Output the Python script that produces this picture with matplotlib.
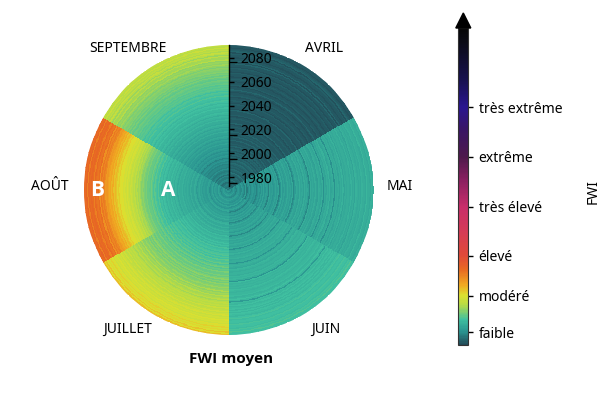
import numpy as np
import matplotlib
matplotlib.use("Agg")
import matplotlib.pyplot as plt
from matplotlib import font_manager as fm
from matplotlib.colors import LinearSegmentedColormap, Normalize
from matplotlib.cm import ScalarMappable
from matplotlib.patches import Polygon

plt.rcParams['font.family'] = ['Noto Sans', 'DejaVu Sans']


def _bold_family():
    for fam in ["Noto Sans", "Open Sans", "Roboto", "DejaVu Sans"]:
        for f in fm.fontManager.ttflist:
            if f.name != fam:
                continue
            w = f.weight
            if isinstance(w, str):
                ok = w.lower() in ("bold", "heavy", "black", "extra bold", "semibold", "demibold")
            else:
                ok = w >= 600
            if ok:
                return [fam, "DejaVu Sans"]
    return ["DejaVu Sans"]


BOLD = _bold_family()

# ---------------- data ----------------
months = ["AVRIL", "MAI", "JUIN", "JUILLET", "AOÛT", "SEPTEMBRE"]
years = list(range(1970, 2091))

avril = [
    1.3, 1.0, 1.5, 1.1, 0.9, 1.4, 1.2, 1.0, 1.6, 1.1,
    1.0, 1.3, 0.8, 1.2, 1.5, 0.9, 1.1, 1.4, 0.8, 1.2,
    0.9, 1.1, 1.3, 0.8, 1.0, 1.4, 0.9, 1.2, 0.7, 1.0,
    0.8, 1.0, 0.7, 1.2, 0.8, 0.7, 1.1, 0.6, 0.9, 0.7,
    0.6, 1.0, 0.7, 0.5, 1.1, 0.6, 0.8, 0.5, 1.0, 0.6,
    0.7, 0.5, 0.9, 0.6, 0.4, 1.0, 0.6, 0.7, 0.5, 0.8,
    0.6, 0.4, 0.9, 0.5, 0.7, 0.6, 1.0, 0.4, 0.6, 0.7,
    0.5, 0.8, 0.4, 0.6, 0.9, 0.5, 0.7, 0.4, 0.8, 0.5,
    0.6, 0.4, 0.7, 1.0, 0.5, 0.6, 0.4, 0.8, 0.5, 0.7,
    0.4, 0.6, 0.9, 0.5, 0.4, 0.7, 0.5, 0.8, 0.4, 0.6,
    0.5, 0.9, 0.4, 0.6, 0.5, 1.2, 0.4, 1.0, 0.5, 0.6,
    0.4, 0.7, 0.5, 0.8, 0.4, 1.2, 0.9, 0.5, 0.4, 0.7,
    0.5,
]

mai = [
    2.4, 2.9, 2.2, 2.7, 3.1, 2.5, 2.0, 2.8, 3.2, 2.6,
    2.3, 3.0, 2.7, 2.1, 3.3, 1.9, 2.5, 3.1, 2.4, 2.9,
    3.2, 2.6, 2.9, 2.0, 2.5, 3.0, 2.7, 3.3, 2.8, 3.5,
    2.9, 3.3, 3.0, 2.1, 3.6, 3.1, 3.4, 2.8, 3.2, 3.7,
    3.1, 3.5, 2.2, 2.9, 3.8, 3.2, 3.6, 3.0, 3.4, 3.9,
    3.3, 3.7, 3.2, 3.9, 2.3, 3.1, 3.8, 3.6, 3.3, 4.0,
    3.5, 3.8, 3.4, 4.1, 3.6, 3.9, 3.3, 2.4, 4.0, 3.5,
    3.8, 3.6, 4.1, 3.7, 3.4, 4.0, 3.8, 3.6, 4.2, 2.5,
    3.9, 3.5, 4.0, 3.8, 4.3, 3.6, 3.9, 4.1, 2.6, 4.0,
    3.8, 4.2, 3.6, 4.0, 3.9, 4.4, 3.7, 4.1, 3.8, 4.0,
    4.2, 3.8, 4.3, 3.9, 4.1, 3.7, 4.4, 4.0, 3.9, 4.2,
    3.8, 4.3, 4.0, 4.1, 3.9, 4.5, 4.0, 4.2, 3.9, 4.3,
    4.1,
]

juin = [
    2.6, 3.1, 2.4, 2.9, 3.3, 2.7, 2.3, 3.0, 3.4, 2.8,
    2.5, 3.2, 2.9, 3.5, 2.7, 3.1, 3.6, 2.8, 2.1, 3.0,
    3.4, 2.9, 3.6, 3.2, 3.7, 3.0, 3.5, 2.3, 3.1, 3.8,
    3.4, 3.7, 3.3, 3.9, 3.6, 3.2, 3.8, 3.6, 2.4, 3.5,
    3.7, 4.0, 3.6, 3.9, 3.7, 4.1, 3.8, 3.5, 4.0, 2.6,
    3.8, 4.1, 3.9, 4.3, 3.8, 4.1, 4.0, 4.4, 3.9, 4.2,
    4.1, 2.8, 4.0, 4.3, 4.2, 3.9, 4.6, 4.3, 4.1, 4.4,
    4.3, 4.2, 4.7, 4.3, 4.5, 4.1, 2.9, 4.8, 4.3, 4.6,
    4.3, 4.7, 4.4, 4.8, 4.5, 4.3, 4.7, 4.6, 4.9, 4.4,
    4.6, 5.0, 4.5, 3.2, 4.9, 4.6, 5.0, 4.7, 4.8, 5.1,
    4.7, 5.0, 4.6, 5.2, 4.9, 4.7, 5.0, 5.3, 4.8, 5.0,
    5.1, 4.9, 5.4, 5.0, 5.2, 4.8, 5.3, 5.0, 5.5, 5.1,
    5.2,
]

juillet = [
    2.8, 3.3, 2.6, 3.1, 3.5, 2.9, 2.5, 3.2, 3.6, 3.0,
    3.1, 3.5, 2.9, 3.7, 3.2, 2.8, 3.6, 3.9, 3.1, 3.4,
    3.6, 3.3, 3.9, 3.5, 4.1, 3.7, 3.4, 4.0, 4.3, 3.8,
    3.9, 4.3, 3.8, 4.2, 4.6, 4.0, 4.4, 4.1, 4.8, 4.3,
    4.5, 4.9, 4.3, 4.7, 5.1, 4.6, 5.0, 4.7, 5.3, 4.9,
    5.0, 5.4, 4.9, 5.3, 5.7, 5.1, 5.5, 5.2, 5.9, 5.4,
    5.6, 6.0, 5.4, 5.9, 6.3, 5.7, 6.1, 5.8, 6.5, 6.0,
    6.2, 6.7, 6.0, 6.5, 7.0, 6.3, 6.8, 6.4, 7.2, 6.7,
    6.9, 7.4, 6.8, 7.2, 7.8, 7.1, 7.6, 7.3, 8.1, 7.5,
    7.8, 8.3, 7.6, 8.1, 8.7, 8.0, 8.5, 8.2, 9.0, 8.4,
    8.7, 9.3, 8.5, 9.0, 9.6, 8.9, 9.4, 9.1, 9.9, 9.3,
    9.6, 9.2, 10.1, 9.5, 10.6, 9.7, 10.3, 9.8, 11.0, 10.2,
    11.3,
]

aout = [
    2.7, 3.2, 2.5, 3.0, 3.4, 2.8, 2.4, 3.1, 3.5, 2.9,
    3.0, 3.4, 2.8, 3.5, 3.1, 2.7, 3.3, 3.7, 3.0, 3.2,
    3.4, 3.1, 3.7, 3.3, 3.9, 3.5, 3.2, 3.8, 4.0, 3.6,
    3.7, 4.0, 3.6, 3.9, 4.2, 3.8, 4.1, 3.9, 4.4, 4.0,
    4.1, 4.4, 3.9, 4.3, 4.6, 4.2, 4.5, 4.3, 4.8, 4.4,
    4.5, 4.9, 4.4, 4.8, 5.2, 4.7, 5.1, 4.9, 5.5, 5.2,
    5.4, 5.8, 5.3, 5.9, 6.3, 5.8, 6.2, 6.0, 6.7, 6.4,
    6.7, 7.2, 6.8, 7.4, 7.9, 7.5, 8.0, 7.8, 8.5, 8.2,
    8.5, 9.0, 8.6, 9.1, 9.6, 9.2, 9.7, 9.4, 10.2, 9.9,
    10.1, 10.8, 10.4, 11.0, 11.7, 11.2, 12.0, 11.6, 12.4, 12.0,
    12.6, 13.2, 12.8, 13.8, 14.4, 13.9, 14.6, 13.4, 15.0, 14.5,
    14.8, 15.4, 14.2, 15.1, 15.7, 15.0, 15.5, 14.0, 15.8, 15.2,
    15.6,
]

septembre = [
    1.6, 2.0, 1.5, 1.9, 2.2, 1.7, 1.4, 2.1, 2.3, 1.8,
    1.9, 2.3, 1.7, 2.4, 2.0, 1.8, 2.2, 2.6, 2.0, 2.3,
    2.4, 2.1, 2.7, 2.3, 2.8, 2.5, 2.2, 2.9, 3.0, 2.6,
    2.8, 3.1, 2.7, 3.0, 3.3, 2.9, 3.2, 3.0, 3.5, 3.1,
    3.3, 3.6, 3.1, 3.5, 3.8, 3.4, 3.7, 3.5, 4.0, 3.6,
    3.8, 4.1, 3.6, 4.0, 4.3, 3.9, 4.2, 4.0, 4.5, 4.1,
    4.3, 4.6, 4.1, 4.5, 4.8, 4.4, 4.7, 4.5, 5.0, 4.6,
    4.8, 5.1, 4.6, 5.0, 5.3, 4.9, 5.2, 5.0, 5.5, 5.2,
    5.4, 5.7, 5.2, 5.6, 5.9, 5.5, 5.8, 5.6, 6.1, 5.8,
    6.0, 6.3, 5.8, 6.2, 6.6, 6.1, 6.5, 6.3, 6.9, 6.5,
    6.8, 7.2, 6.6, 7.1, 7.6, 7.0, 7.4, 7.2, 8.0, 7.5,
    7.7, 8.3, 7.4, 8.0, 8.8, 7.8, 8.5, 8.1, 9.2, 8.2,
    8.6,
]

class_labels = ["faible", "modéré", "élevé", "très élevé", "extrême", "très extrême"]
class_values = [2.6, 9.9, 18.0, 27.9, 38.0, 48.0]
fwi_min, fwi_max = 0.0, 64.0
year_ticks = [1980, 2000, 2020, 2040, 2060, 2080]

# ---------------- colormap ----------------
cmap = LinearSegmentedColormap.from_list("fwi", [
    (0.000, "#224a57"),
    (0.041, "#2a9490"),
    (0.079, "#40c0a0"),
    (0.126, "#b8dc45"),
    (0.155, "#dce030"),
    (0.189, "#f0a822"),
    (0.237, "#e86a22"),
    (0.281, "#e04a38"),
    (0.363, "#d43a58"),
    (0.435, "#c82e6a"),
    (0.520, "#8a2060"),
    (0.593, "#4e1a4c"),
    (0.678, "#3a1664"),
    (0.751, "#2a1690"),
    (0.836, "#181250"),
    (0.962, "#0a0a14"),
    (1.000, "#050505"),
])
norm = Normalize(fwi_min, fwi_max)

# ---------------- figure ----------------
W, H = 616, 404
fig = plt.figure(figsize=(W / 100, H / 100), dpi=100)

cx, cy, R = 228.5, 190.0, 145.0
ax = fig.add_axes([(cx - R) / W, (H - cy - R) / H, 2 * R / W, 2 * R / H],
                  projection="polar")
ax.set_theta_zero_location("N")
ax.set_theta_direction(-1)

sub = 40
data = np.array([avril, mai, juin, juillet, aout, septembre]).T  # (years, months)
C = np.repeat(data, sub, axis=1)
theta_edges = np.linspace(0, 2 * np.pi, len(months) * sub + 1)
yr = np.array(years, dtype=float)
r_edges = np.concatenate([yr - 0.5, [yr[-1] + 0.5]])
ax.pcolormesh(theta_edges, r_edges, C, cmap=cmap, norm=norm, shading="flat")
ax.set_ylim(r_edges[0], r_edges[-1])
ax.set_xticks([])
ax.set_yticks([])
ax.grid(False)
ax.spines["polar"].set_visible(False)
ax.set_facecolor("none")

# month labels
label_pos = {
    "AVRIL": (324.5, 48), "MAI": (399.6, 186), "JUIN": (326, 329),
    "JUILLET": (128, 329), "AOÛT": (49.7, 186), "SEPTEMBRE": (128, 49),
}
for m in months:
    px, py = label_pos[m]
    fig.text(px / W, 1 - py / H, m, ha="center", va="center", fontsize=10)

# A / B markers in August sector
ax.text(np.deg2rad(270), 2020, "A", color="white", fontsize=15, family=BOLD,
        fontweight="bold", ha="center", va="center")
ax.text(np.deg2rad(270), 2079.5, "B", color="white", fontsize=15, family=BOLD,
        fontweight="bold", ha="center", va="center")

fig.text(231 / W, 1 - 359 / H, "FWI moyen", ha="center", va="center",
         fontsize=11, fontweight="bold", family=BOLD)

# radial year axis
axr = fig.add_axes([cx / W, (H - cy) / H, 0.0001, R / H])
axr.set_ylim(r_edges[0], r_edges[-1])
axr.set_facecolor("none")
for s in ["left", "top", "bottom"]:
    axr.spines[s].set_visible(False)
axr.spines["right"].set_linewidth(1.0)
axr.spines["right"].set_bounds(1973, r_edges[-1])
axr.yaxis.tick_right()
axr.set_xticks([])
axr.set_yticks(year_ticks)
axr.set_yticks([1975, 1995, 2015, 2076], minor=True)
axr.tick_params(axis="y", which="major", length=3.6, width=1.0, pad=5,
                labelsize=10, direction="out")
axr.tick_params(axis="y", which="minor", length=5.5, width=1.0, direction="out")

# colorbar
cax = fig.add_axes([458.3 / W, (H - 345) / H, 10 / W, 317 / H])
cb = fig.colorbar(ScalarMappable(norm=norm, cmap=cmap), cax=cax)
cb.set_ticks(class_values, labels=class_labels)
cb.ax.tick_params(length=3.5, width=1.0, pad=4, labelsize=10)
cb.outline.set_linewidth(0.8)
cb.outline.set_edgecolor("#333333")
arrow = Polygon([(-0.25, 1.0), (1.25, 1.0), (0.5, 1.0 + 15 / 317)],
                closed=True, facecolor="black", edgecolor="black",
                transform=cax.transAxes, clip_on=False, zorder=5)
cax.add_patch(arrow)
fig.text(593 / W, 1 - 192 / H, "FWI", rotation=90, ha="center", va="center",
         fontsize=10)

fig.savefig("out.png", dpi=100, facecolor="white")
